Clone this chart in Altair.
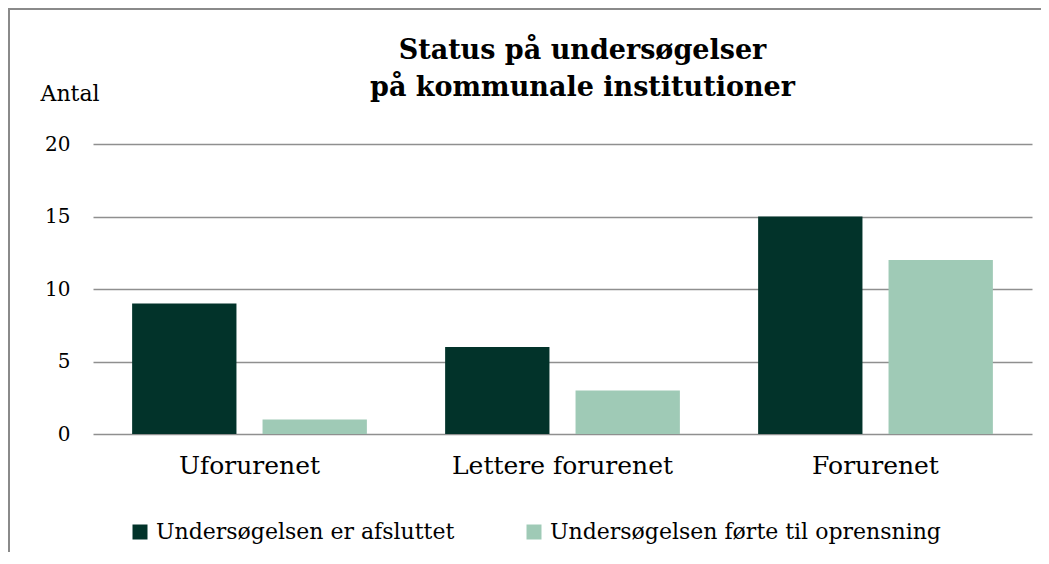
import altair as alt
import pandas as pd

categories = ["Uforurenet", "Lettere forurenet", "Forurenet"]
series = ["Undersøgelsen er afsluttet", "Undersøgelsen førte til oprensning"]
afsluttet = [9, 6, 15]
oprensning = [1, 3, 12]
y_ticks = [0, 5, 10, 15, 20]
colors = ["#02332a", "#9fcab6"]

rows = []
for c, a, o in zip(categories, afsluttet, oprensning):
    rows.append({"kategori": c, "serie": series[0], "antal": a})
    rows.append({"kategori": c, "serie": series[1], "antal": o})
df = pd.DataFrame(rows)

W, H = 939, 290
PL, PT, PR, PB = 85, 136, 9, 118
FONT = "DejaVu Serif"

bars = alt.Chart(df).mark_bar().encode(
    x=alt.X(
        "kategori:N",
        sort=categories,
        scale=alt.Scale(paddingInner=0.25, paddingOuter=0.125),
        axis=alt.Axis(
            title=None, labelAngle=0, ticks=False, tickSize=0, domain=False,
            labelFont=FONT, labelFontSize=25, labelColor="#000000",
            labelPadding=19, grid=False, labelLimit=400,
        ),
    ),
    xOffset=alt.XOffset(
        "serie:N", sort=series,
        scale=alt.Scale(paddingInner=0.2, paddingOuter=0),
    ),
    y=alt.Y(
        "antal:Q",
        scale=alt.Scale(domain=[0, 20]),
        axis=alt.Axis(
            values=y_ticks, title="Antal", titleAngle=0, titleX=-53, titleY=-44,
            titleAlign="left", titleBaseline="alphabetic", titleFont=FONT,
            titleFontSize=22, titleFontWeight="normal", titleColor="#000000",
            labelFont=FONT, labelFontSize=20, labelColor="#000000",
            labelPadding=23, ticks=False, tickSize=0, domain=False,
            grid=True, gridColor="#8f8f8f", gridWidth=1.5,
        ),
    ),
    color=alt.Color(
        "serie:N",
        scale=alt.Scale(domain=series, range=colors),
        legend=alt.Legend(
            title=None, orient="none", legendX=36, legendY=377,
            direction="horizontal", symbolType="square", symbolSize=225,
            symbolStrokeWidth=0, labelFont=FONT, labelFontSize=22,
            labelColor="#000000", labelOffset=5, columnPadding=68, padding=0,
            labelLimit=600,
        ),
    ),
)

frame = alt.Chart(alt.Data(values=[{}])).mark_rect(
    fill="transparent", stroke="#8a8a8a", strokeWidth=2
).encode(
    x=alt.value(-PL + 1), x2=alt.value(W + PR + 30),
    y=alt.value(-PT + 1), y2=alt.value(H + PB + 30),
)

chart = alt.layer(bars, frame).properties(
    width=W, height=H,
    padding={"left": PL, "top": PT, "right": PR, "bottom": PB},
    autosize=alt.AutoSizeParams(type="none"),
    title=alt.TitleParams(
        text=["Status på undersøgelser", "på kommunale institutioner"],
        anchor="middle", font=FONT, fontSize=27, fontWeight="bold",
        color="#000000", lineHeight=37, dx=20, dy=94, offset=0,
    ),
).configure_view(stroke=None)

chart.save("out.html", embed_options={"renderer": "svg", "actions": False})
